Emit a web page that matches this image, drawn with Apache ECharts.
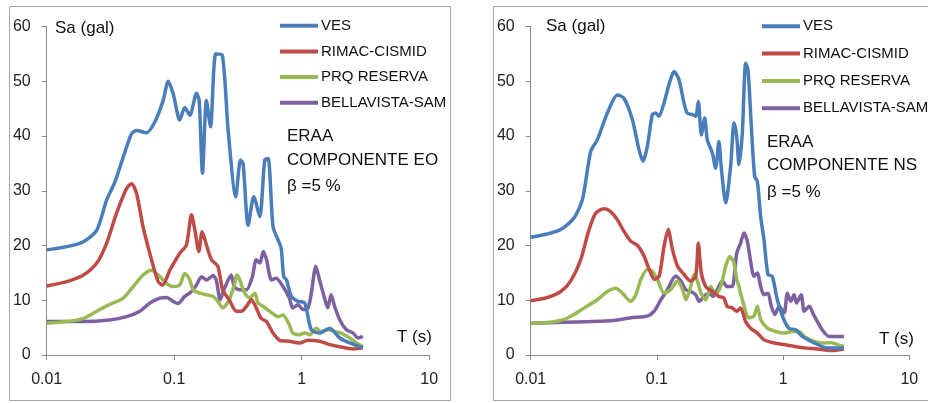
<!DOCTYPE html>
<html>
<head>
<meta charset="utf-8">
<script src="https://cdn.jsdelivr.net/npm/echarts@6/dist/echarts.min.js"></script>
<style>
html,body{margin:0;padding:0;background:#fff;}
#c{width:928px;height:403px;}
</style>
</head>
<body>
<div id="c"></div>
<script>
// ---- Data: [T (s), Sa (gal)] ----
const seriesNames = ['VES', 'RIMAC-CISMID', 'PRQ RESERVA', 'BELLAVISTA-SAM'];
const xTicks = [0.01, 0.1, 1, 10];
const yTicks = [0, 10, 20, 30, 40, 50, 60];

// Componente EO (left panel)
const eoVES = [[0.01,19.2],[0.0144,19.8],[0.0194,20.7],[0.0247,22.8],[0.0295,28.3],[0.0343,31.6],[0.0399,36.2],[0.0463,40.4],[0.0507,41.0],[0.0607,40.6],[0.0706,42.6],[0.082,46.5],[0.0898,50.0],[0.0982,47.7],[0.1107,42.9],[0.121,45.2],[0.1327,43.8],[0.1496,47.8],[0.157,46.5],[0.1667,33.2],[0.179,46.5],[0.1927,41.7],[0.212,55.0],[0.239,54.7],[0.265,41.0],[0.304,28.9],[0.331,35.6],[0.347,35.0],[0.380,23.7],[0.421,28.9],[0.469,25.3],[0.513,35.6],[0.545,35.9],[0.596,23.4],[0.653,21.0],[0.69,19.5],[0.723,14.3],[0.76,13.7],[0.83,10.7],[0.935,9.8],[1.055,9.5],[1.19,4.6],[1.38,4.0],[1.656,4.9],[1.99,3.1],[2.38,2.2],[3.02,1.3]];
const eoRIMAC = [[0.01,12.6],[0.0144,13.4],[0.0194,14.6],[0.0247,16.8],[0.0295,20.4],[0.0353,25.9],[0.0423,30.4],[0.0463,31.3],[0.0507,29.5],[0.057,23.4],[0.0664,17.4],[0.0749,13.4],[0.0811,12.8],[0.0924,15.5],[0.1107,18.6],[0.1247,20.1],[0.1367,25.6],[0.1453,22.8],[0.156,18.9],[0.1656,22.5],[0.179,20.1],[0.196,17.4],[0.22,16.2],[0.24,11.9],[0.27,10.1],[0.307,8.0],[0.336,8.0],[0.369,8.9],[0.403,10.1],[0.44,8.6],[0.48,6.7],[0.53,6.1],[0.596,4.0],[0.67,2.7],[0.80,2.5],[0.96,2.2],[1.12,2.7],[1.38,2.5],[1.66,1.9],[1.99,1.5],[2.53,1.1],[3.02,1.3]];
const eoPRQ = [[0.01,5.8],[0.0144,6.1],[0.0194,6.7],[0.0247,8.0],[0.031,9.2],[0.0399,10.4],[0.0477,12.5],[0.057,14.6],[0.0664,15.5],[0.0749,14.6],[0.087,13.1],[0.098,12.5],[0.1107,12.8],[0.121,14.9],[0.131,14.0],[0.141,11.9],[0.159,11.3],[0.179,11.0],[0.2017,10.7],[0.22,9.8],[0.24,8.6],[0.27,10.1],[0.296,12.8],[0.31,14.6],[0.327,13.7],[0.357,11.3],[0.39,10.4],[0.43,11.3],[0.4536,9.5],[0.4967,8.9],[0.56,8.0],[0.614,7.3],[0.653,7.0],[0.713,7.3],[0.80,5.5],[0.85,4.0],[0.96,3.7],[1.055,4.0],[1.155,3.7],[1.30,4.9],[1.42,4.3],[1.60,4.6],[1.81,4.3],[2.04,4.0],[2.38,3.1],[2.69,2.2],[3.02,1.5]];
const eoBELLA = [[0.01,6.1],[0.0194,6.1],[0.031,6.4],[0.0423,7.0],[0.0537,8.0],[0.0645,9.5],[0.077,10.4],[0.087,10.5],[0.098,9.8],[0.107,9.4],[0.121,10.7],[0.1367,11.6],[0.1496,12.8],[0.164,14.3],[0.179,13.7],[0.2017,14.5],[0.2135,13.7],[0.2297,10.1],[0.248,12.2],[0.28,14.6],[0.296,12.5],[0.327,11.9],[0.369,11.9],[0.41,14.3],[0.44,17.4],[0.47,16.8],[0.50,18.9],[0.53,17.4],[0.58,13.7],[0.63,14.0],[0.713,12.5],[0.80,10.4],[0.85,8.6],[0.935,9.2],[1.02,8.3],[1.12,8.6],[1.19,11.3],[1.29,16.2],[1.38,13.7],[1.51,10.4],[1.60,8.6],[1.70,11.0],[1.81,8.9],[1.99,6.4],[2.24,4.6],[2.53,4.0],[2.77,3.1],[3.02,3.4]];

// Componente NS (right panel)
const nsVES = [[0.01,21.5],[0.01355,22.1],[0.0173,22.9],[0.022,25.0],[0.0257,28.4],[0.0299,37.2],[0.0337,39.3],[0.0405,44.2],[0.0486,47.5],[0.0548,46.9],[0.0639,43.0],[0.0721,37.5],[0.0776,35.4],[0.084,38.1],[0.092,43.9],[0.0977,44.2],[0.1038,43.6],[0.1138,46.0],[0.1247,49.4],[0.1366,51.8],[0.1496,50.3],[0.164,46.0],[0.174,44.2],[0.191,43.9],[0.203,43.6],[0.213,46.3],[0.225,40.2],[0.239,43.3],[0.251,39.3],[0.275,36.9],[0.292,34.1],[0.31,39.0],[0.324,34.1],[0.351,27.8],[0.384,34.5],[0.408,42.4],[0.429,39.9],[0.447,34.8],[0.475,40.5],[0.505,53.3],[0.527,52.1],[0.56,41.8],[0.595,32.6],[0.625,31.7],[0.664,25.3],[0.705,21.1],[0.759,14.7],[0.82,14.4],[0.90,10.1],[1.0,6.8],[1.11,4.9],[1.26,4.6],[1.42,3.4],[1.76,2.2],[2.24,1.3],[3.03,1.3]];
const nsRIMAC = [[0.01,9.9],[0.01355,10.5],[0.0173,11.6],[0.0207,13.5],[0.0249,17.4],[0.029,22.9],[0.0327,25.9],[0.038,26.7],[0.043,26.2],[0.0486,24.7],[0.0548,22.6],[0.062,20.8],[0.0703,20.0],[0.0794,18.0],[0.087,15.6],[0.0953,13.8],[0.1043,14.4],[0.1138,19.8],[0.1228,22.9],[0.133,19.2],[0.1457,16.2],[0.164,14.7],[0.185,13.5],[0.203,14.4],[0.213,20.4],[0.225,15.0],[0.244,12.5],[0.275,11.6],[0.31,10.7],[0.34,10.4],[0.36,8.9],[0.395,8.6],[0.429,8.0],[0.46,8.6],[0.505,6.1],[0.553,4.9],[0.625,4.0],[0.705,2.8],[0.85,2.2],[1.02,1.9],[1.22,1.6],[1.47,1.3],[1.87,1.1],[2.38,0.8],[3.03,1.1]];
const nsPRQ = [[0.01,5.8],[0.0144,6.0],[0.0184,6.5],[0.022,7.4],[0.0265,8.6],[0.0337,10.1],[0.0405,11.6],[0.0472,12.2],[0.0533,11.3],[0.062,9.8],[0.0681,11.0],[0.0746,13.8],[0.084,15.6],[0.092,15.3],[0.101,13.8],[0.1138,11.3],[0.128,11.9],[0.1457,13.5],[0.16,11.9],[0.17,10.1],[0.1855,12.5],[0.197,14.7],[0.21,13.5],[0.223,11.3],[0.244,10.1],[0.267,12.5],[0.292,11.0],[0.32,12.5],[0.351,16.2],[0.377,18.0],[0.408,16.8],[0.429,13.8],[0.447,12.5],[0.475,10.1],[0.536,6.8],[0.587,7.1],[0.625,8.9],[0.664,6.5],[0.75,4.9],[0.875,4.3],[1.02,4.0],[1.186,4.3],[1.34,4.3],[1.47,3.4],[1.76,2.5],[2.12,2.2],[2.38,2.3],[2.7,1.9],[3.03,1.6]];
const nsBELLA = [[0.01,5.8],[0.0184,6.0],[0.0299,6.1],[0.0458,6.3],[0.062,6.8],[0.084,7.1],[0.0953,8.0],[0.1075,10.1],[0.1209,11.9],[0.133,13.8],[0.1414,14.4],[0.155,13.5],[0.17,11.9],[0.1855,11.6],[0.203,11.0],[0.216,9.8],[0.236,10.7],[0.258,11.3],[0.279,10.7],[0.30,11.9],[0.33,13.5],[0.36,12.5],[0.395,12.5],[0.429,18.6],[0.46,20.4],[0.49,22.3],[0.52,20.8],[0.553,17.1],[0.587,14.4],[0.625,15.0],[0.664,12.5],[0.705,11.0],[0.76,11.3],[0.80,9.2],[0.86,7.4],[0.93,8.9],[1.02,7.7],[1.08,11.3],[1.15,9.8],[1.22,11.0],[1.28,9.5],[1.39,11.0],[1.47,8.0],[1.61,8.9],[1.74,7.4],[1.87,6.1],[2.04,4.6],[2.31,3.4],[2.6,3.4],[3.03,3.4]];

const colors = ['#4a7ebb', '#be4b48', '#98b954', '#7d60a0'];
const FONT = '"Liberation Sans", Arial, sans-serif';

const chart = echarts.init(document.getElementById('c'), null, {renderer: 'canvas'});

function xAx(gi) {
  return {
    type: 'log', logBase: 10, gridIndex: gi, min: xTicks[0], max: xTicks[xTicks.length - 1],
    axisLine: {show: true, lineStyle: {color: '#8c8c8c', width: 1}},
    axisTick: {show: true, length: 5, lineStyle: {color: '#8c8c8c'}},
    minorTick: {show: false},
    splitLine: {show: false},
    axisLabel: {margin: 17, fontSize: 16, fontFamily: FONT, color: '#222',
      formatter: v => { const r = Math.round(v * 1000) / 1000; return String(r); }}
  };
}
function yAx(gi) {
  return {
    type: 'value', gridIndex: gi, min: yTicks[0], max: yTicks[yTicks.length - 1], interval: 10,
    axisLine: {show: true, lineStyle: {color: '#8c8c8c', width: 1}},
    axisTick: {show: true, length: 5, lineStyle: {color: '#8c8c8c'}},
    splitLine: {show: false},
    axisLabel: {margin: 16, fontSize: 16, fontFamily: FONT, color: '#222'}
  };
}
function mk(name, data, idx, gi) {
  return {
    name: name, type: 'line', xAxisIndex: gi, yAxisIndex: gi, data: data,
    showSymbol: false, smooth: 0.25, color: colors[idx],
    lineStyle: {width: 3.5, color: colors[idx]}, z: 10 - idx
  };
}
function legend(left, top, gap) {
  return {
    orient: 'vertical', left: left, top: top, itemGap: gap,
    itemWidth: 38, itemHeight: 4, icon: 'rect', selectedMode: false,
    data: seriesNames,
    textStyle: {fontSize: 15, fontFamily: FONT, color: '#111', lineHeight: 16, padding: [0, 0, 0, -2]}
  };
}

const eoData = [eoVES, eoRIMAC, eoPRQ, eoBELLA];
const nsData = [nsVES, nsRIMAC, nsPRQ, nsBELLA];
const series = [];
eoData.forEach((d, i) => series.push(mk(seriesNames[i], d, i, 0)));
nsData.forEach((d, i) => series.push(mk(seriesNames[i], d, i, 1)));

function txt(x, y, s, size) {
  return {type: 'text', left: x, top: y, z: 50,
    style: {text: s, font: size + 'px ' + FONT, fill: '#111'}};
}

chart.setOption({
  animation: false,
  backgroundColor: '#fff',
  grid: [
    {left: 46.7, top: 26.5, width: 382.5, height: 328.5, containLabel: false},
    {left: 530.7, top: 26.5, width: 378.6, height: 328.5, containLabel: false}
  ],
  xAxis: [xAx(0), xAx(1)],
  yAxis: [yAx(0), yAx(1)],
  legend: [legend(275, 12.7, 9.7), legend(757, 13.3, 11.3)],
  series: series,
  graphic: [
    {type: 'rect', shape: {x: 9.5, y: 6.5, width: 441, height: 394}, style: {fill: 'none', stroke: '#a6a6a6', lineWidth: 1}, silent: true},
    {type: 'rect', shape: {x: 493.5, y: 6.5, width: 440, height: 394}, style: {fill: 'none', stroke: '#a6a6a6', lineWidth: 1}, silent: true},
    txt(55, 20, 'Sa (gal)', 17),
    txt(397, 329, 'T (s)', 17),
    txt(287, 128, 'ERAA', 17),
    txt(287, 152, 'COMPONENTE EO', 17),
    txt(287, 178, 'β =5 %', 17),
    txt(546, 18, 'Sa (gal)', 17),
    txt(879, 331, 'T (s)', 17),
    txt(767, 134, 'ERAA', 17),
    txt(767, 157, 'COMPONENTE NS', 17),
    txt(767, 184, 'β =5 %', 17)
  ]
});
</script>
</body>
</html>
